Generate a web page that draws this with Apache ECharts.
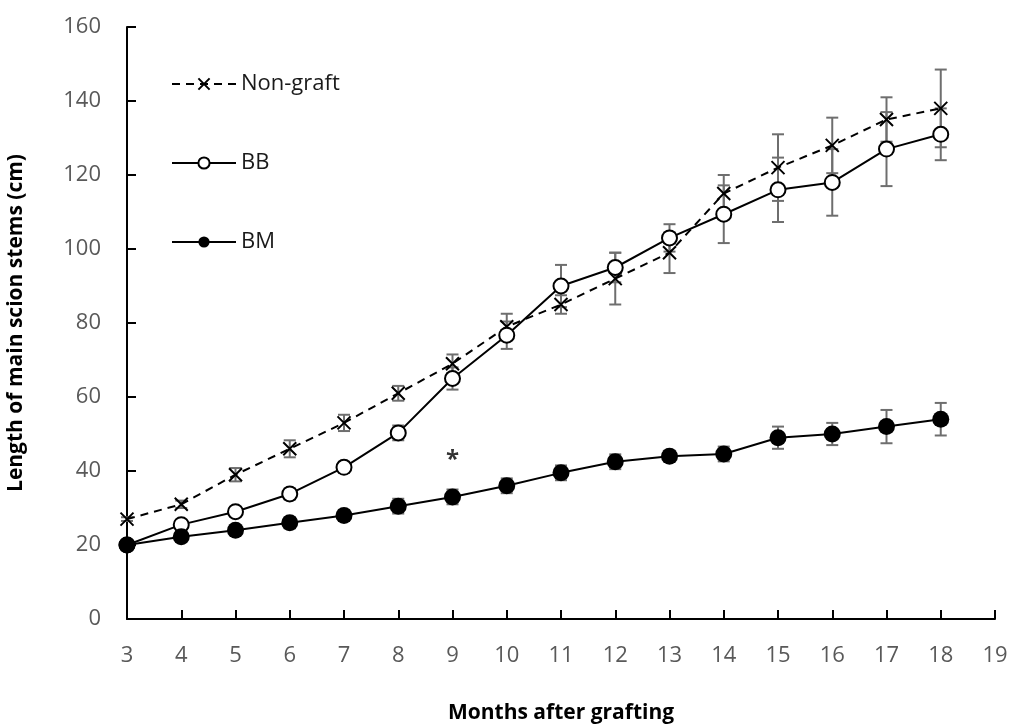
<!DOCTYPE html>
<html>
<head>
<meta charset="utf-8">
<script src="https://cdn.jsdelivr.net/npm/echarts@6/dist/echarts.min.js"></script>
<style>
  html, body { margin: 0; padding: 0; background: #fff; }
  #chart { width: 1013px; height: 726px; }
</style>
</head>
<body>
<div id="chart"></div>
<script>
  var months = [3, 4, 5, 6, 7, 8, 9, 10, 11, 12, 13, 14, 15, 16, 17, 18];
  var nonGraft = [27, 31, 39, 46, 53, 61, 69, 79, 85, 92, 99, 115, 122, 128, 135, 138];
  var nonGraftErr = [0.5, 1, 1.8, 2.3, 2.2, 2, 2.5, 3.5, 2.5, 7, 5.5, 5, 9, 7.5, 6, 10.5];
  var bb = [20, 25.5, 29, 33.8, 41, 50.3, 65, 76.7, 90, 95, 103, 109.4, 116, 118, 127, 131];
  var bbErr = [0.5, 1, 1, 1.5, 1.5, 2, 3, 3.7, 5.7, 4, 3.7, 7.8, 8.7, 9, 10, 7];
  var bm = [20, 22.2, 24, 26, 28, 30.5, 33, 36, 39.5, 42.5, 44, 44.6, 49, 50, 52, 54];
  var bmErr = [0.5, 1, 1, 1.5, 1.5, 2, 2, 2, 2, 2, 1.5, 2, 3, 3, 4.5, 4.4];
  var starPoint = [9, 43];

  var crossPath = 'path://M0,0 L10,10 M10,0 L0,10';

  function pairs(vals) {
    return months.map(function (m, i) { return [m, vals[i]]; });
  }
  function errData(vals, errs) {
    return months.map(function (m, i) { return [m, vals[i] - errs[i], vals[i] + errs[i]]; });
  }
  function errSeries(vals, errs) {
    return {
      type: 'custom',
      z: 1,
      silent: true,
      renderItem: function (params, api) {
        var x = api.value(0);
        var lo = api.coord([x, api.value(1)]);
        var hi = api.coord([x, api.value(2)]);
        var w = 6;
        var st = { stroke: '#6e6e6e', lineWidth: 2 };
        return {
          type: 'group',
          children: [
            { type: 'line', shape: { x1: lo[0], y1: lo[1], x2: hi[0], y2: hi[1] }, style: st },
            { type: 'line', shape: { x1: hi[0] - w, y1: hi[1], x2: hi[0] + w, y2: hi[1] }, style: st },
            { type: 'line', shape: { x1: lo[0] - w, y1: lo[1], x2: lo[0] + w, y2: lo[1] }, style: st }
          ]
        };
      },
      data: errData(vals, errs)
    };
  }

  var chart = echarts.init(document.getElementById('chart'));
  var font = '"Open Sans", "Noto Sans", sans-serif';

  chart.setOption({
    backgroundColor: '#fff',
    animation: false,
    textStyle: { fontFamily: font },
    grid: { left: 127, right: 18, top: 27, bottom: 107, outerBoundsMode: 'none', containLabel: false },
    legend: {
      orient: 'vertical',
      left: 166,
      top: 68,
      itemWidth: 64,
      itemHeight: 14,
      itemGap: 57,
      textStyle: { fontSize: 22, color: '#1a1a1a', fontFamily: font },
      data: ['Non-graft', 'BB', 'BM']
    },
    xAxis: {
      type: 'value',
      min: 3,
      max: 19,
      interval: 1,
      name: 'Months after grafting',
      nameLocation: 'middle',
      nameGap: 84,
      nameTextStyle: { fontSize: 21, fontWeight: 'bold', color: '#000' },
      axisLine: { lineStyle: { color: '#000', width: 2 } },
      axisTick: { inside: true, length: 9, lineStyle: { color: '#000', width: 2 } },
      axisLabel: { fontSize: 22, color: '#595959', margin: 26 },
      splitLine: { show: false }
    },
    yAxis: {
      type: 'value',
      min: 0,
      max: 160,
      interval: 20,
      name: 'Length of main scion stems (cm)',
      nameLocation: 'middle',
      nameGap: 100,
      nameTextStyle: { fontSize: 21, fontWeight: 'bold', color: '#000' },
      axisLine: { show: true, lineStyle: { color: '#000', width: 2 } },
      axisTick: { show: true, inside: true, length: 9, lineStyle: { color: '#000', width: 2 } },
      axisLabel: { fontSize: 22, color: '#595959', margin: 26 },
      splitLine: { show: false }
    },
    series: [
      errSeries(nonGraft, nonGraftErr),
      errSeries(bb, bbErr),
      errSeries(bm, bmErr),
      {
        name: 'Non-graft',
        type: 'line',
        z: 3,
        data: pairs(nonGraft),
        symbol: crossPath,
        symbolSize: 13,
        lineStyle: { color: '#000', width: 2, type: [8, 6] },
        itemStyle: { color: '#000', borderColor: '#000', borderWidth: 2 }
      },
      {
        name: 'BB',
        type: 'line',
        z: 4,
        data: pairs(bb),
        symbol: 'emptyCircle',
        symbolSize: 15,
        lineStyle: { color: '#000', width: 2 },
        itemStyle: { color: '#000', borderColor: '#000', borderWidth: 2 }
      },
      {
        name: 'BM',
        type: 'line',
        z: 5,
        data: pairs(bm),
        symbol: 'circle',
        symbolSize: 17,
        lineStyle: { color: '#000', width: 2 },
        itemStyle: { color: '#000' }
      },
      {
        type: 'scatter',
        z: 6,
        silent: true,
        data: [starPoint],
        symbolSize: 0,
        label: {
          show: true,
          position: 'inside',
          formatter: '*',
          fontSize: 24,
          fontWeight: 'bold',
          color: '#000'
        }
      }
    ]
  });
</script>
</body>
</html>
